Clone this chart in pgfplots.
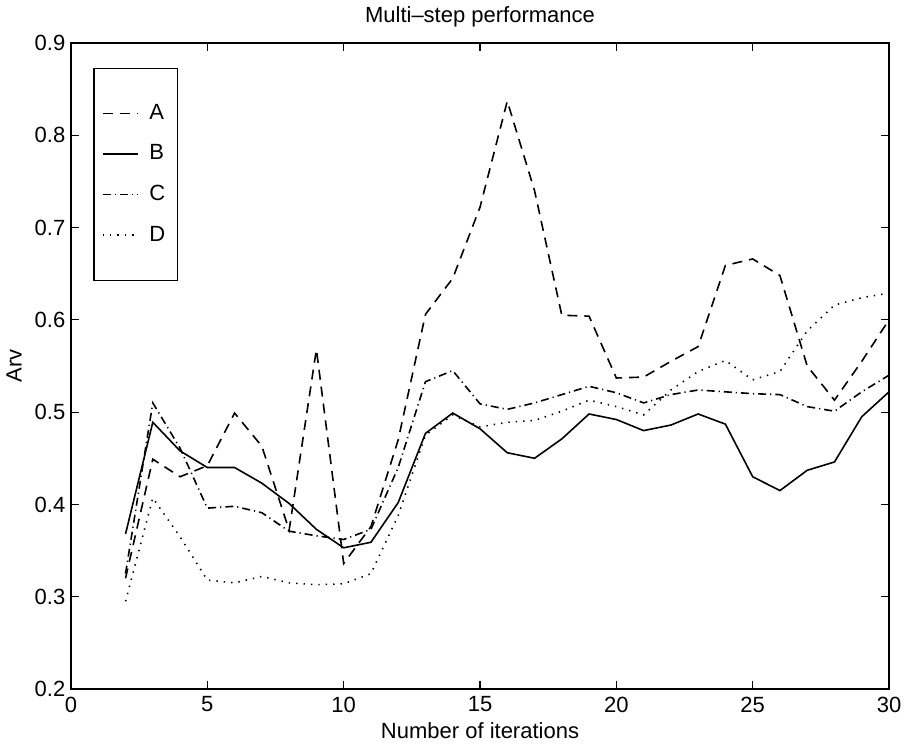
\documentclass[border=0pt]{standalone}
\usepackage{fontspec}
\setmainfont{Liberation Sans}
\usepackage{pgfplots}
\pgfplotsset{compat=1.18}

\begin{document}
\fontsize{11}{13}\selectfont
\begin{tikzpicture}
\begin{axis}[
    width=409pt, height=323pt,
    scale only axis,
    xmin=0, xmax=30, ymin=0.2, ymax=0.9,
    xtick={0,5,...,30},
    ytick={0.2,0.3,0.4,0.5,0.6,0.7,0.8,0.9},
    yticklabel style={xshift=1pt, /pgf/number format/.cd,fixed,fixed zerofill,precision=1},
    /pgf/number format/assume math mode=true,
    tick align=inside, tick pos=both,
    major tick length=4pt,
    axis line style={line width=0.8pt},
    every tick/.style={black, line width=0.6pt},
    title={Multi--step performance},
    xlabel={Number of iterations},
    ylabel={Arv},
    xlabel style={yshift=2.5pt},
    ylabel style={yshift=-1pt},
    title style={yshift=-2pt},
    legend cell align=left,
    legend style={at={(rel axis cs:0.027,0.962)}, anchor=north west,
      draw=black, line width=0.8pt, inner xsep=4pt, inner ysep=16pt,
      row sep=7pt, font=\fontsize{11}{13}\selectfont},
    legend image code/.code={\draw[#1] (0pt,0pt) -- (17.5pt,0pt); \path (21pt,0pt);},
    every axis plot/.append style={black, line width=0.8pt},
  ]
\addplot[dash pattern=on 5pt off 3.5pt] coordinates {
(2,0.320) (3,0.449) (4,0.430) (5,0.442) (6,0.499) (7,0.463) (8,0.372)
(9,0.568) (10,0.336) (11,0.376) (12,0.470) (13,0.606) (14,0.645)
(15,0.722) (16,0.837) (17,0.740) (18,0.605) (19,0.604) (20,0.537)
(21,0.538) (22,0.555) (23,0.571) (24,0.659) (25,0.666) (26,0.648)
(27,0.550) (28,0.513) (29,0.555) (30,0.600)};
\addlegendentry{A\hspace{5pt}}
\addplot[solid] coordinates {
(2,0.368) (3,0.489) (4,0.458) (5,0.440) (6,0.440) (7,0.423) (8,0.401)
(9,0.373) (10,0.353) (11,0.359) (12,0.402) (13,0.477) (14,0.499)
(15,0.482) (16,0.456) (17,0.450) (18,0.471) (19,0.498) (20,0.492)
(21,0.480) (22,0.486) (23,0.498) (24,0.487) (25,0.430) (26,0.415)
(27,0.437) (28,0.446) (29,0.495) (30,0.522)};
\addlegendentry{B\hspace{5pt}}
\addplot[dash pattern=on 4pt off 2pt on 0.6pt off 2pt] coordinates {
(2,0.325) (3,0.510) (4,0.461) (5,0.396) (6,0.398) (7,0.391) (8,0.371)
(9,0.366) (10,0.362) (11,0.373) (12,0.440) (13,0.533) (14,0.545)
(15,0.509) (16,0.503) (17,0.510) (18,0.519) (19,0.528) (20,0.521)
(21,0.510) (22,0.519) (23,0.524) (24,0.522) (25,0.520) (26,0.519)
(27,0.506) (28,0.501) (29,0.522) (30,0.540)};
\addlegendentry{C\hspace{5pt}}
\addplot[dash pattern=on 0.7pt off 3pt] coordinates {
(2,0.295) (3,0.407) (4,0.365) (5,0.318) (6,0.315) (7,0.322) (8,0.315)
(9,0.313) (10,0.314) (11,0.325) (12,0.388) (13,0.475) (14,0.497)
(15,0.484) (16,0.489) (17,0.491) (18,0.501) (19,0.513) (20,0.506)
(21,0.497) (22,0.524) (23,0.544) (24,0.556) (25,0.535) (26,0.544)
(27,0.588) (28,0.616) (29,0.624) (30,0.629)};
\addlegendentry{D\hspace{5pt}}
\end{axis}
\pgfresetboundingbox
\path[use as bounding box] ([xshift=-35.5pt,yshift=-27.5pt]current axis.south west)
  rectangle ([xshift=7.5pt,yshift=21.5pt]current axis.north east);
\end{tikzpicture}
\end{document}
